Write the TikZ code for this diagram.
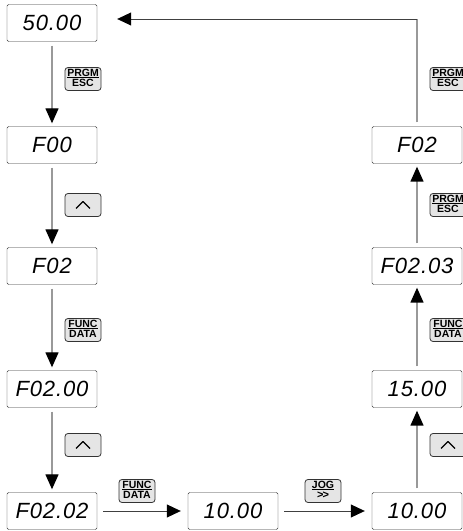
\documentclass[tikz,border=0pt]{standalone}
\usepackage{fontspec}
\setmainfont{Liberation Sans}
\newfontfamily\lcdfont[LetterSpace=4]{Liberation Sans}
\usetikzlibrary{arrows.meta}
\colorlet{box edge}{black!80}
\colorlet{flow line}{black!40}
\colorlet{key fill}{black!10}
\newcommand{\keylabel}[2]{\begin{tabular}{@{}c@{}}#1\\[-2.5pt]\hline\rule{0pt}{9pt}#2\end{tabular}}
\tikzset{display/.style={draw=box edge, rounded corners=1.5pt, minimum width=90pt, minimum height=37pt,
        inner sep=0pt, font=\lcdfont\itshape\fontsize{22}{22}\selectfont},
    key/.style={draw=box edge, fill=key fill, line width=0.8pt, rounded corners=3pt, minimum width=36pt,
        minimum height=23pt, inner sep=1pt, font=\bfseries\fontsize{10.5}{10}\selectfont},
    flow/.style={draw=flow line, line width=1.4pt, shorten <=4pt, shorten >=3pt,
        -{Triangle[width=13pt,length=15pt,color=black]}},
    flowh/.style={draw=black!75, line width=0.8pt, shorten <=6pt, shorten >=7pt,
        -{Triangle[width=13pt,length=14pt,color=black]}}}

\begin{document}
\begin{tikzpicture}[x=1pt, y=1pt]
    \useasboundingbox (0,0) rectangle (463,531);
    % displays
    \node[display] (d5000)   at (52,508) {50.00};
    \node[display] (dF00)    at (52,386) {F00};
    \node[display] (dF02)    at (52,265) {F02};
    \node[display] (dF0200)  at (52,142) {F02.00};
    \node[display] (dF0202)  at (52,20)  {F02.02};
    \node[display] (d1000)   at (233,20) {10.00};
    \node[display] (d1000b)  at (417,20) {10.00};
    \node[display] (d1500)   at (417,142) {15.00};
    \node[display] (dF0203)  at (417,265) {F02.03};
    \node[display] (dF02b)   at (417,386) {F02};
    % keys
    \node[key] (kprgm)  at (83,452)  {\keylabel{PRGM}{ESC}};
    \node[key] (kup)    at (83,326)  {};
    \node[key] (kfunc)  at (83,201)  {\keylabel{FUNC}{DATA}};
    \node[key] (kupb)   at (83,86)   {};
    \node[key] (kfuncb) at (137,40)  {\keylabel{FUNC}{DATA}};
    \node[key] (kjog)   at (323,40)  {\keylabel{JOG}{\fontsize{11}{10}\selectfont>\kern-1pt>}};
    \node[key] (kupc)   at (448,86)  {};
    \node[key] (kfuncc) at (448,201) {\keylabel{FUNC}{DATA}};
    \node[key] (kprgmb) at (448,326) {\keylabel{PRGM}{ESC}};
    \node[key] (kprgmc) at (448,452) {\keylabel{PRGM}{ESC}};
    \foreach \k in {kup, kupb, kupc}
        \draw[line width=1.1pt, line join=round] ([xshift=-7pt,yshift=-3.5pt]\k.center)
            -- ++(7pt,7pt) -- ++(7pt,-7pt);
    % steps
    \draw[flow] (d5000) -- (dF00);
    \draw[flow] (dF00) -- (dF02);
    \draw[flow] (dF02) -- (dF0200);
    \draw[flow] (dF0200) -- (dF0202);
    \draw[flowh] (dF0202) -- (d1000);
    \draw[flowh] (d1000) -- (d1000b);
    \draw[flow] (d1000b) -- (d1500);
    \draw[flow] (d1500) -- (dF0203);
    \draw[flow] (dF0203) -- (dF02b);
    % back to the start
    \coordinate (back) at ([yshift=4pt]d5000.east);
    \draw[draw=flow line, line width=1.4pt, shorten <=4pt] (dF02b) -- (dF02b |- back);
    \draw[flowh, shorten <=0pt, shorten >=20pt] (dF02b |- back) -- (back);
\end{tikzpicture}
\end{document}
